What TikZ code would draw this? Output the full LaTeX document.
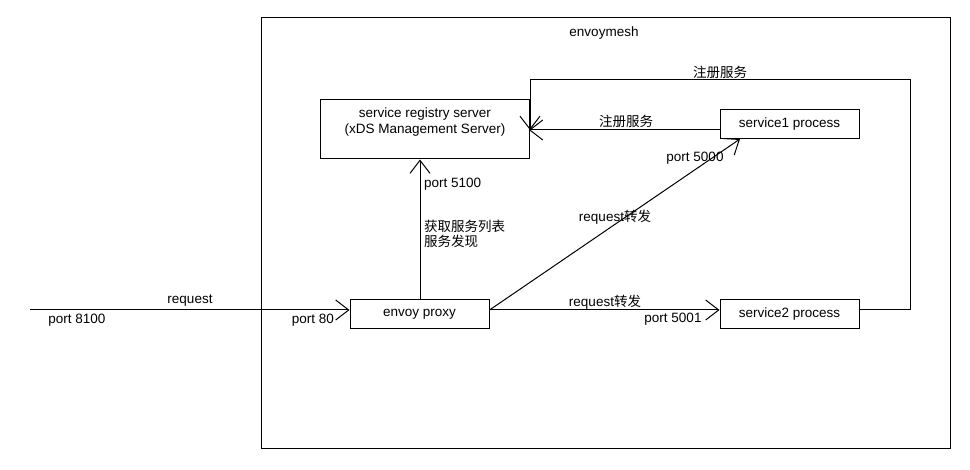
\documentclass[tikz,border=0pt]{standalone}
\usepackage{fontspec}
\setmainfont{Liberation Sans}
\newfontfamily\cjk{Noto Sans CJK SC}
\usetikzlibrary{arrows.meta,calc}
\tikzset{
  box/.style={draw, line width=1pt, inner sep=0pt},
  arr/.style={line width=1pt, -{Straight Barb[length=13pt,width=20pt,line width=1pt]}},
  con/.style={line width=1pt},
  lbl/.style={inner sep=0pt, font=\fontsize{13.5}{15.5}\selectfont},
}
\begin{document}
\begin{tikzpicture}[x=1pt,y=-1pt]
\useasboundingbox[fill=white] (0,0) rectangle (970,470);
% outer frame
\node[box, minimum width=689pt, minimum height=431pt] (mesh) at (605.5,233.5) {};
\node[lbl] (meshlbl) at (604,33) {envoymesh};
% boxes
\node[box, minimum width=209pt, minimum height=59pt] (reg) at (424.5,129.5) {};
\node[lbl, align=center] (regtxt) at (425,122) {service registry server\\(xDS Management Server)};
\node[box, minimum width=139pt, minimum height=29pt, font=\fontsize{13.5}{15.5}\selectfont] (s1) at (789.5,124.5) {service1 process};
\node[box, minimum width=139pt, minimum height=29pt, font=\fontsize{13.5}{15.5}\selectfont] (s2) at (789.5,314.5) {service2 process};
\node[box, minimum width=139pt, minimum height=29pt, font=\fontsize{13.5}{15.5}\selectfont] (proxy) at (419.5,314.5) {envoy proxy};
% coordinates
\coordinate (in) at (30,310);
\coordinate (regin) at (529,130);
\coordinate (s1in) at (740,139);
\coordinate (loopr) at (910,80);
% connectors
\draw[arr] (in) -- (in -| proxy.west);
\draw[arr] (proxy.north -| 420,0) -- (reg.south -| 420,0);
\draw[arr] (proxy.east |- 0,310) -- (s1in);
\draw[arr] (proxy.east |- 0,310) -- (s2.west |- 0,310);
\draw[arr] (s1.west |- regin) -- (regin);
\draw[arr] (s2.east |- 0,310) -| (loopr) -| (530,130);
% labels
\node[lbl] (l1) at (190,301) {request};
\node[lbl] (l2) at (77,320) {port 8100};
\node[lbl] (l3) at (313,320) {port 80};
\node[lbl, anchor=west] (l4) at (424,184) {port 5100};
\node[lbl, anchor=west, align=left, font=\fontsize{13.5}{15}\selectfont\cjk] (l5) at (424,234) {获取服务列表\\服务发现};
\node[lbl] (l6) at (615,217) {request{\cjk 转发}};
\node[lbl] (l7) at (695,158) {port 5000};
\node[lbl] (l8) at (605,302) {request{\cjk 转发}};
\node[lbl] (l9) at (673,319) {port 5001};
\node[lbl, font=\fontsize{13.5}{15.5}\selectfont\cjk] (l10) at (626,121) {注册服务};
\node[lbl, font=\fontsize{13.5}{15.5}\selectfont\cjk] (l11) at (720,72) {注册服务};
\end{tikzpicture}
\end{document}
